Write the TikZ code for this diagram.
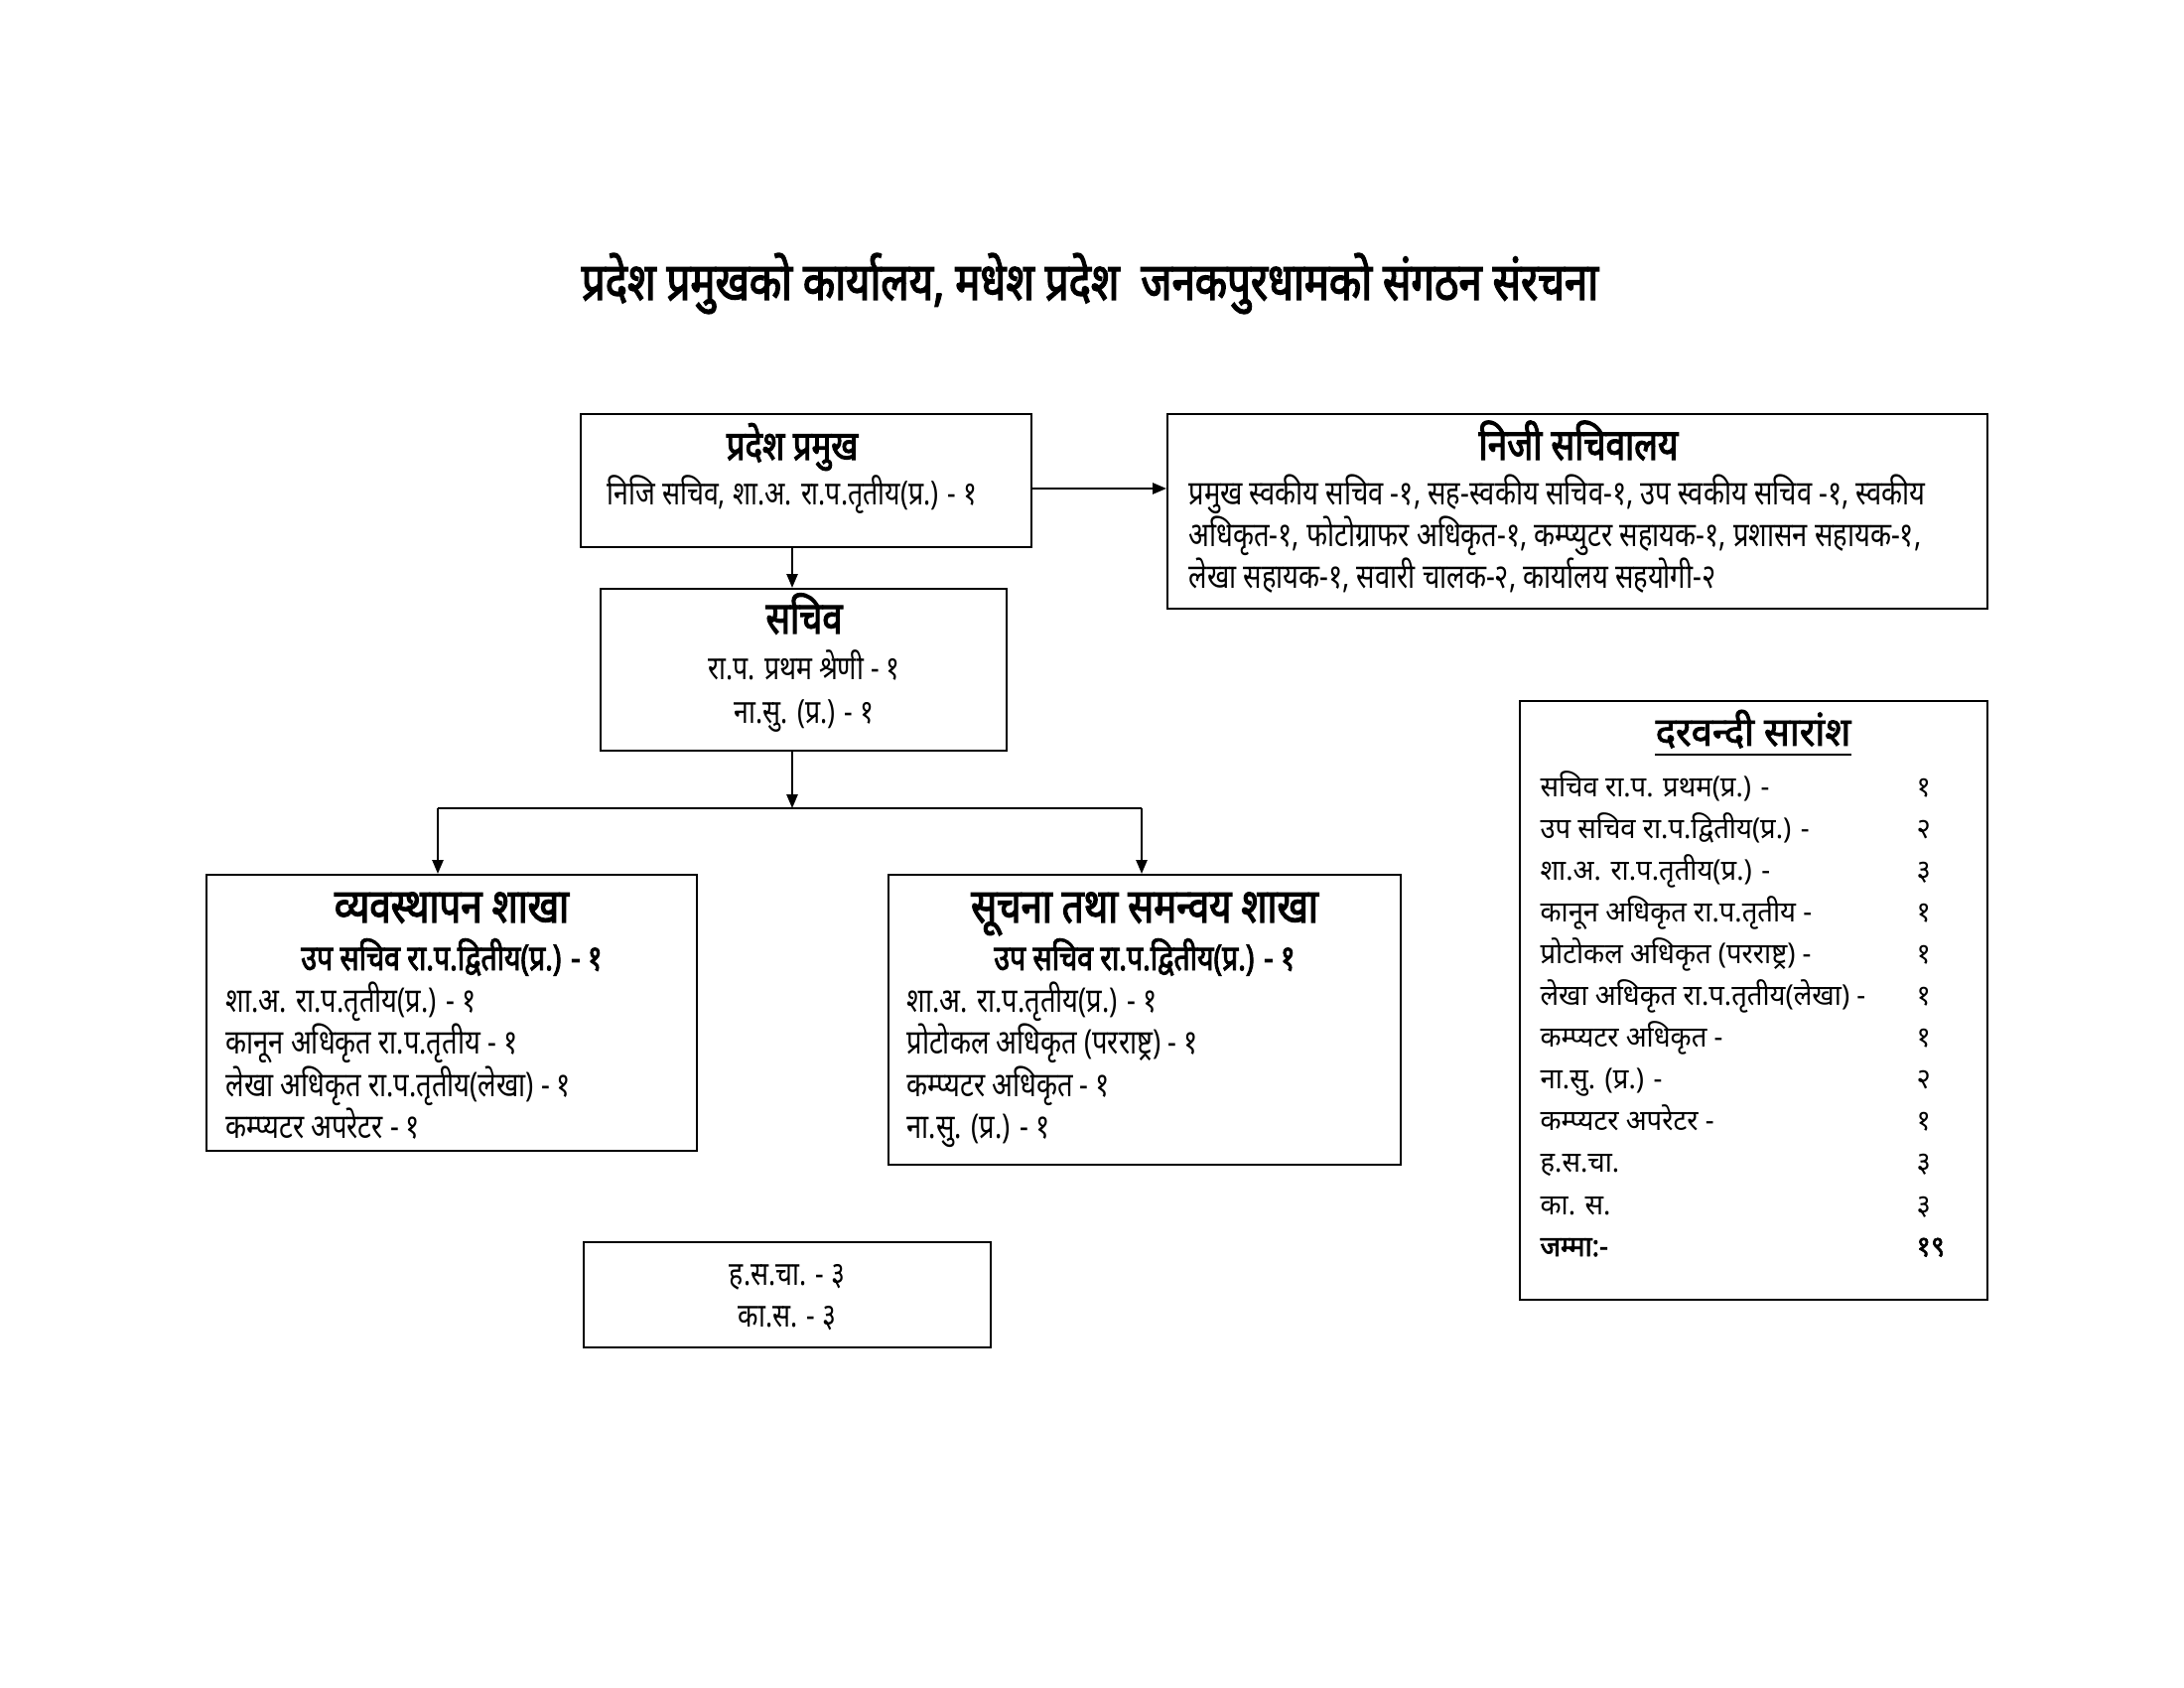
\documentclass[tikz,border=0pt]{standalone}
\usepackage{fontspec}
\usetikzlibrary{arrows.meta,calc,fit}
\newfontfamily\devs[Script=Devanagari,FakeStretch=0.95,BoldFont={Noto Sans},BoldFeatures={FakeBold=2,FakeStretch=0.95}]{Noto Sans}
\newfontfamily\devc[Script=Devanagari,FakeStretch=0.8,BoldFont={Noto Sans},BoldFeatures={FakeBold=2.5,FakeStretch=0.8}]{Noto Sans}
\begin{document}
\begin{tikzpicture}[x=0.36pt,y=-0.36pt,
  box/.style={draw, line width=0.75pt, inner sep=0pt},
  conn/.style={line width=0.75pt},
  arr/.style={line width=0.75pt, -{Triangle[length=5pt,width=4pt]}},
  ttl/.style={inner sep=0pt, anchor=base, font=\devc\bfseries\fontsize{18.9}{22}\selectfont},
  hd/.style={inner sep=0pt, anchor=base, font=\devc\bfseries\fontsize{#1}{18}\selectfont},
  hd/.default=15,
  sub/.style={inner sep=0pt, anchor=base, font=\devc\bfseries\fontsize{12.8}{15}\selectfont},
  txc/.style={inner sep=0pt, anchor=base, font=\devc\fontsize{12}{14}\selectfont},
  txl/.style={inner sep=0pt, anchor=base west, font=\devc\fontsize{12.3}{14}\selectfont},
  sm/.style={inner sep=0pt, anchor=base west, font=\devs\fontsize{10.4}{12}\selectfont},
  smb/.style={inner sep=0pt, anchor=base west, font=\devs\bfseries\fontsize{10.4}{12}\selectfont},
  smh/.style={inner sep=0pt, anchor=base, font=\devs\bfseries\fontsize{14.5}{17}\selectfont}
]
\useasboundingbox[fill=white] (0,0) rectangle (2200,1700);

% title
\node[ttl] (title) at (1098,302) {प्रदेश प्रमुखको कार्यालय, मधेश प्रदेश~ जनकपुरधामको संगठन संरचना};

% boxes
\node[box, fit={(585,417) (1039,551)}] (pp) {};
\node[box, fit={(1176,417) (2002,613)}] (nj) {};
\node[box, fit={(605,593) (1014,756)}] (sc) {};
\node[box, fit={(208,881) (702,1159)}] (vs) {};
\node[box, fit={(895,881) (1411,1173)}] (su) {};
\node[box, fit={(588,1251) (998,1357)}] (hs) {};
\node[box, fit={(1531,706) (2002,1309)}] (dr) {};

% pradesh pramukh
\node[hd=14.8] (pph) at (798,463) {प्रदेश प्रमुख};
\node[txc] (pp1) at (798,509) {निजि सचिव, शा.अ. रा.प.तृतीय(प्र.) - १};

% niji sachivalaya
\node[hd=15.8] (njh) at (1590,463) {निजी सचिवालय};
\node[txl] (nj1) at (1197,509) {प्रमुख स्वकीय सचिव -१, सह-स्वकीय सचिव-१, उप स्वकीय सचिव -१, स्वकीय};
\node[txl] (nj2) at (1197,551) {अधिकृत-१, फोटोग्राफर अधिकृत-१, कम्प्युटर सहायक-१, प्रशासन सहायक-१,};
\node[txl] (nj3) at (1197,593) {लेखा सहायक-१, सवारी चालक-२, कार्यालय सहयोगी-२};

% sachiv
\node[hd=16.3] (sch) at (810,638) {सचिव};
\node[txc] (sc1) at (810,685) {रा.प. प्रथम श्रेणी - १};
\node[txc] (sc2) at (810,729) {ना.सु. (प्र.) - १};

% vyavasthapan
\node[hd=17.3] (vsh) at (455,929) {व्यवस्थापन शाखा};
\node[sub] (vs0) at (455,977) {उप सचिव रा.प.द्वितीय(प्र.) - १};
\node[txl] (vs1) at (227,1019) {शा.अ. रा.प.तृतीय(प्र.) - १};
\node[txl] (vs2) at (227,1061) {कानून अधिकृत रा.प.तृतीय - १};
\node[txl] (vs3) at (227,1104) {लेखा अधिकृत रा.प.तृतीय(लेखा) - १};
\node[txl] (vs4) at (227,1146) {कम्प्यटर अपरेटर - १};

% suchana
\node[hd=17.3] (suh) at (1153,929) {सूचना तथा समन्वय शाखा};
\node[sub] (su0) at (1153,977) {उप सचिव रा.प.द्वितीय(प्र.) - १};
\node[txl] (su1) at (913,1019) {शा.अ. रा.प.तृतीय(प्र.) - १};
\node[txl] (su2) at (913,1061) {प्रोटोकल अधिकृत (परराष्ट्र) - १};
\node[txl] (su3) at (913,1104) {कम्प्यटर अधिकृत - १};
\node[txl] (su4) at (913,1146) {ना.सु. (प्र.) - १};

% h.s.cha
\node[txc] (hs1) at (793,1294) {ह.स.चा. - ३};
\node[txc] (hs2) at (793,1336) {का.स. - ३};

% darbandi
\node[smh] (drh) at (1766,751) {दरवन्दी सारांश};
\draw[line width=0.9pt] ($(drh.base west)+(0,9)$) coordinate (ul1) -- ($(drh.base east)+(0,9)$) coordinate (ul2);
\foreach \t/\n [count=\i from 0] in {
  सचिव रा.प. प्रथम(प्र.) -/१,
  उप सचिव रा.प.द्वितीय(प्र.) -/२,
  शा.अ. रा.प.तृतीय(प्र.) -/३,
  कानून अधिकृत रा.प.तृतीय -/१,
  प्रोटोकल अधिकृत (परराष्ट्र) -/१,
  लेखा अधिकृत रा.प.तृतीय(लेखा) -/१,
  कम्प्यटर अधिकृत -/१,
  ना.सु. (प्र.) -/२,
  कम्प्यटर अपरेटर -/१,
  ह.स.चा./३,
  का. स./३}{
  \node[sm] (dr\i) at (1551,{802+42.1*\i}) {\t};
  \node[sm] (dn\i) at (1930,{802+42.1*\i}) {\n};
}
\node[smb] (drt) at (1551,1265) {जम्मा:-};
\node[smb] (dnt) at (1930,1265) {१९};

% connectors
\coordinate (spine) at (798,814);
\coordinate (bl) at (441,814);
\coordinate (br) at (1150,814);
\draw[arr] (pp.east |- 0,492) -- (nj.west |- 0,492);
\draw[arr] (pp.south -| spine) -- (sc.north -| spine);
\draw[arr] (sc.south -| spine) -- (spine);
\draw[conn] (bl) -- (br);
\draw[arr] (bl) -- (vs.north -| bl);
\draw[arr] (br) -- (su.north -| br);
\end{tikzpicture}
\end{document}
